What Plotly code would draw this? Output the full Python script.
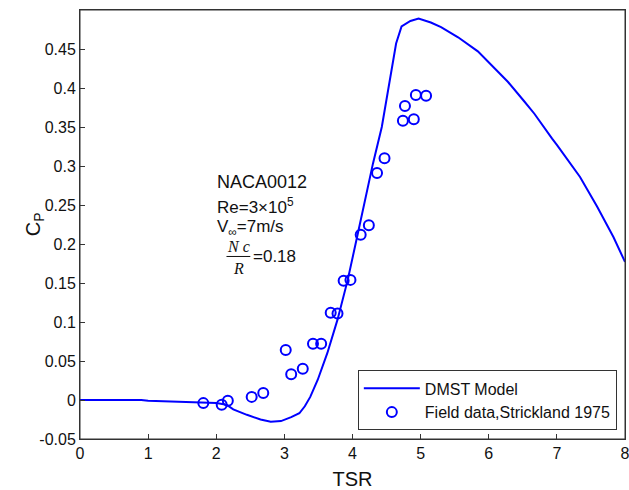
import plotly.graph_objects as go

# DMST model curve
tsr_model = [0.0, 0.5, 0.9, 1.0, 1.3, 1.5, 2.0, 2.15, 2.25, 2.45, 2.65, 2.8, 2.95, 3.1, 3.22,
             3.3, 3.38, 3.49, 3.63, 3.78, 3.93, 4.08, 4.30, 4.43, 4.55, 4.64, 4.72, 4.85,
             4.97, 5.15, 5.30, 5.55, 5.84, 6.05, 6.28, 6.52, 6.67, 6.93, 7.0, 7.34, 7.59,
             7.83, 8.0]
cp_model = [0.0, 0.0, 0.0, -0.001, -0.002, -0.003, -0.004, -0.006, -0.012, -0.019, -0.025,
            -0.028, -0.027, -0.022, -0.017, -0.008, 0.004, 0.026, 0.060, 0.103, 0.154, 0.214,
            0.303, 0.350, 0.410, 0.457, 0.479, 0.486, 0.489, 0.484, 0.478, 0.465, 0.447,
            0.428, 0.408, 0.383, 0.367, 0.335, 0.327, 0.286, 0.248, 0.209, 0.177]

# Field data, Strickland 1975
tsr_field = [1.81, 2.08, 2.17, 2.52, 2.69, 3.02, 3.10, 3.27, 3.42, 3.54, 3.68, 3.78, 3.87,
             3.97, 4.12, 4.24, 4.36, 4.47, 4.74, 4.77, 4.90, 4.93, 5.08]
cp_field = [-0.004, -0.006, -0.001, 0.004, 0.009, 0.064, 0.033, 0.040, 0.072, 0.072, 0.112,
            0.111, 0.153, 0.154, 0.212, 0.224, 0.291, 0.310, 0.358, 0.377, 0.360, 0.391, 0.390]

x_ticks = [0, 1, 2, 3, 4, 5, 6, 7, 8]
y_ticks = [-0.05, 0, 0.05, 0.1, 0.15, 0.2, 0.25, 0.3, 0.35, 0.4, 0.45]
y_tick_text = ["-0.05", "0", "0.05", "0.1", "0.15", "0.2", "0.25", "0.3", "0.35", "0.4", "0.45"]

BLUE = "#0000FF"
FONT = "Liberation Sans, Arial, sans-serif"
INK = "#111111"

fig = go.Figure()
fig.add_trace(go.Scatter(x=tsr_model, y=cp_model, mode="lines", name="DMST Model",
                         line=dict(color=BLUE, width=2)))
fig.add_trace(go.Scatter(x=tsr_field, y=cp_field, mode="markers",
                         name="Field data,Strickland 1975",
                         marker=dict(symbol="circle-open", size=10, color=BLUE,
                                     line=dict(width=2, color=BLUE))))

axis_common = dict(showline=True, linecolor="#333333", linewidth=1, mirror=True,
                   ticks="inside", ticklen=5, tickcolor="#333333", showgrid=False,
                   zeroline=False, ticklabeloverflow="allow",
                   tickfont=dict(family=FONT, size=16, color=INK))

fig.update_xaxes(range=[0, 8], tickvals=x_ticks, automargin=False,
                 title=dict(text="TSR", font=dict(family=FONT, size=20, color=INK),
                            standoff=12),
                 **axis_common)
fig.update_yaxes(range=[-0.05, 0.5], tickvals=y_ticks, ticktext=y_tick_text,
                 automargin=False, **axis_common)

txt = dict(family=FONT, size=17, color=INK)
serif = dict(family="Liberation Serif, Times New Roman, serif", size=16, color=INK)
annos = [
    dict(x=1.98, y=0.280, text="NACA0012", font=dict(family=FONT, size=18, color=INK),
         xanchor="left"),
    dict(x=1.98, y=0.249, text="Re=3×10<sup>5</sup>", font=txt, xanchor="left"),
    dict(x=1.98, y=0.221, text="V<sub>∞</sub>=7m/s", font=txt, xanchor="left"),
    dict(x=2.33, y=0.197, text="<i>N c</i>", font=serif, xanchor="center"),
    dict(x=2.33, y=0.168, text="<i>R</i>", font=serif, xanchor="center"),
    dict(x=2.51, y=0.184, text="=0.18", font=txt, xanchor="left"),
]
for a in annos:
    fig.add_annotation(xref="x", yref="y", showarrow=False, yanchor="middle", **a)
# y-axis title placed like the reference
fig.add_annotation(xref="paper", yref="paper", x=-0.083, y=0.5, text="C<sub>P</sub>",
                   textangle=-90, showarrow=False, xanchor="center", yanchor="middle",
                   font=dict(family=FONT, size=20, color=INK))
fig.add_shape(type="line", xref="x", yref="y", x0=2.15, x1=2.50, y0=0.184, y1=0.184,
              line=dict(color=INK, width=1))
# axes box frame
fig.add_shape(type="rect", xref="paper", yref="paper", x0=0, x1=1, y0=0, y1=1,
              line=dict(color="#333333", width=1), fillcolor="rgba(0,0,0,0)", layer="above")

fig.update_layout(
    width=629, height=490,
    margin=dict(l=80, r=4, t=10, b=51),
    paper_bgcolor="white", plot_bgcolor="white",
    font=dict(family=FONT, size=16, color=INK),
    legend=dict(x=0.985, y=0.02, xanchor="right", yanchor="bottom",
                bgcolor="white", bordercolor="#333333", borderwidth=1,
                font=dict(family=FONT, size=16, color=INK),
                tracegroupgap=0, itemwidth=56),
    showlegend=True,
)

fig.write_html("out.html", config={"displayModeBar": False},
               post_script="document.body.style.margin='0';document.body.style.overflow='hidden';")
